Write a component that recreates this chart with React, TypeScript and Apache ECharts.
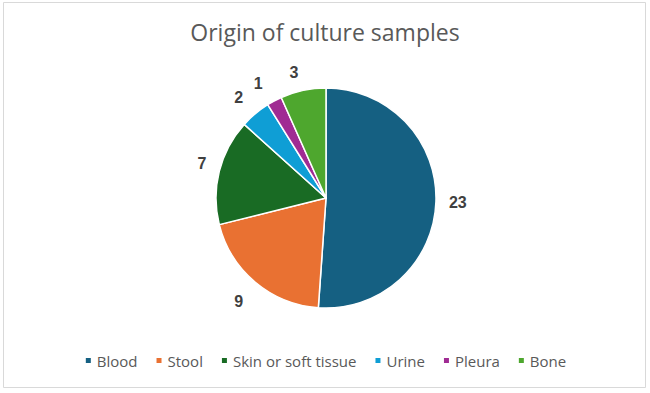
import React, { useEffect, useRef } from "react";
import * as echarts from "echarts";

const categories = ["Blood", "Stool", "Skin or soft tissue", "Urine", "Pleura", "Bone"];
const values = [23, 9, 7, 2, 1, 3];
const colors = ["#156082", "#E97132", "#196B24", "#0F9ED5", "#A02B93", "#4EA72E"];
const titleText = "Origin of culture samples";
// small label nudges (Excel-like "outside end" placement)
const labelDx = [0, -2, 0, -2, -3, 2];
const labelDy = [0, 13, -6, -10, -10, -10];

export default function App() {
  const ref = useRef<HTMLDivElement>(null);
  useEffect(() => {
    const chart = echarts.init(ref.current!, null, { renderer: "svg" });
    chart.setOption({
      animation: false,
      backgroundColor: "#ffffff",
      color: colors,
      title: {
        text: titleText,
        left: "center",
        top: 15,
        textStyle: {
          fontFamily: "Open Sans",
          fontSize: 23,
          fontWeight: "normal",
          color: "#595959",
        },
      },
      legend: {
        bottom: 20,
        left: "center",
        icon: "rect",
        itemWidth: 7,
        itemHeight: 7,
        itemGap: 17,
        textStyle: { fontFamily: "Open Sans", fontSize: 15, color: "#595959" },
        data: categories,
      },
      graphic: [
        {
          type: "rect",
          shape: { x: 3.5, y: 2.5, width: 642, height: 385 },
          style: { fill: "none", stroke: "#d9d9d9", lineWidth: 1 },
          silent: true,
        },
      ],
      series: [
        {
          type: "pie",
          center: [326, 198],
          radius: [0, 110],
          startAngle: 90,
          clockwise: true,
          avoidLabelOverlap: false,
          itemStyle: { borderColor: "#ffffff", borderWidth: 1.5 },
          label: {
            show: true,
            position: "outside",
            formatter: "{c}",
            fontFamily: "Liberation Sans",
            fontWeight: "bold",
            fontSize: 16,
            color: "#404040",
          },
          labelLine: { show: false, length: 8, length2: 0 },
          labelLayout: (params: any) => ({
            dx: labelDx[params.dataIndex],
            dy: labelDy[params.dataIndex],
          }),
          data: categories.map((name, i) => ({ name, value: values[i] })),
        },
      ],
    });
    return () => chart.dispose();
  }, []);
  return (
    <div
      ref={ref}
      style={{ position: "fixed", left: 0, top: 0, width: 650, height: 393 }}
    />
  );
}
